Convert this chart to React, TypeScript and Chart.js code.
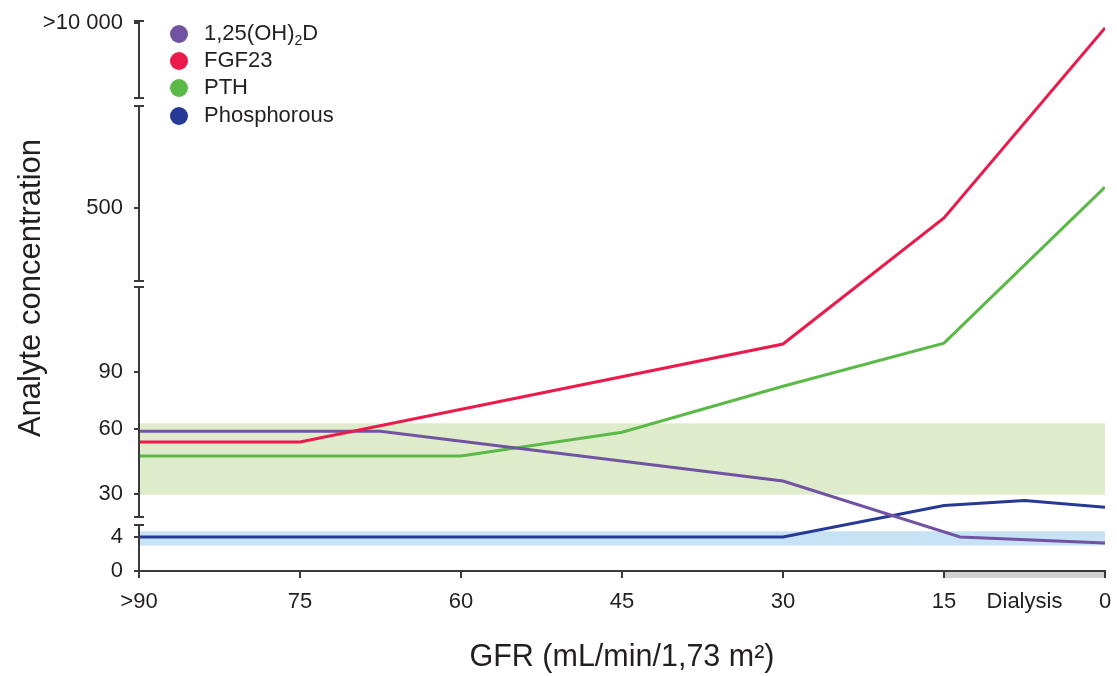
import React, { useEffect, useRef } from "react";
import { Chart, registerables } from "chart.js";

Chart.register(...registerables);

// ---- Broken y-axis definition (value -> axis position) ----
const yTickValues = [0, 4, 30, 60, 90, 500, 10000];
const yTickLabels = ["0", "4", "30", "60", "90", "500", ">10 000"];
const yAxisAnchors = [0, 34, 77, 142, 199, 363, 548];
const yAxisSegments = [
  [0, 46],
  [54, 284],
  [290, 465],
  [473, 550],
];

// ---- X axis ----
const gfrTicks = [90, 75, 60, 45, 30, 15, 7.5, 0];
const gfrTickLabels = [">90", "75", "60", "45", "30", "15", "Dialysis", "0"];

// ---- Series ----
const vitDGfr = [90, 67.5, 30, 13.5, 0];
const vitD = [59, 59, 36, 4, 3.3];

const fgfGfr = [90, 75, 30, 15, 0];
const fgf23 = [54, 54, 160, 475, 9750];

const pthGfr = [90, 60, 45, 30, 15, 0];
const pth = [47.5, 47.5, 58.5, 82.5, 162, 1570];

const phosGfr = [90, 30, 15, 7.5, 0];
const phos = [4, 4, 23, 26, 22];

// ---- Normal ranges ----
const rangeGfr = [90, 0];
const pthRangeUpper = [63, 63];
const pthRangeLower = [29.5, 29.5];
const phosRangeUpper = [7.5, 7.5];
const phosRangeLower = [3, 3];

const seriesNames = ["1,25(OH)2D", "FGF23", "PTH", "Phosphorous"];
const seriesColors = ["#7153a2", "#ec1a4b", "#5bb947", "#263a95"];

const TEXT = "#231f20";
const AXIS = "#3a3a3a";
const FONT = "'Liberation Sans', Arial, Helvetica, sans-serif";

function toPos(v: number): number {
  for (let i = 1; i < yTickValues.length; i++) {
    if (v <= yTickValues[i] || i === yTickValues.length - 1) {
      const v0 = yTickValues[i - 1];
      const v1 = yTickValues[i];
      const p0 = yAxisAnchors[i - 1];
      const p1 = yAxisAnchors[i];
      return p0 + ((v - v0) / (v1 - v0)) * (p1 - p0);
    }
  }
  return 0;
}

function pts(xs: number[], ys: number[]) {
  return xs.map((x, i) => ({ x, y: toPos(ys[i]) }));
}

const customPlugin = {
  id: "custom",
  beforeDraw(chart: any) {
    const { ctx, scales } = chart;
    const x = scales.x;
    const y = scales.y;
    const x0 = x.getPixelForValue(15);
    const x1 = x.getPixelForValue(0);
    const yb = y.getPixelForValue(0);
    ctx.save();
    ctx.fillStyle = "#d1d1d3";
    ctx.fillRect(x0, yb, x1 - x0, 7);
    ctx.restore();
  },
  afterDraw(chart: any) {
    const { ctx, scales } = chart;
    const y = scales.y;
    const ax = chart.chartArea.left;
    ctx.save();
    // broken y-axis
    ctx.strokeStyle = AXIS;
    ctx.lineWidth = 2;
    yAxisSegments.forEach(([a, b]) => {
      const ya = y.getPixelForValue(a);
      const yb = y.getPixelForValue(b);
      ctx.beginPath();
      ctx.moveTo(ax, ya);
      ctx.lineTo(ax, yb);
      ctx.stroke();
      [a, b].forEach((p) => {
        if (p === 0) return;
        const py = y.getPixelForValue(p);
        ctx.beginPath();
        ctx.moveTo(ax - 5, py);
        ctx.lineTo(ax + 5, py);
        ctx.stroke();
      });
    });
    // legend
    const lx = 179;
    const ly = [34, 61, 88, 116];
    ctx.textBaseline = "middle";
    ctx.textAlign = "left";
    seriesNames.forEach((name, i) => {
      ctx.fillStyle = seriesColors[i];
      ctx.beginPath();
      ctx.arc(lx, ly[i], 9, 0, Math.PI * 2);
      ctx.fill();
      ctx.fillStyle = TEXT;
      ctx.font = `22px ${FONT}`;
      if (i === 0) {
        const p1 = "1,25(OH)";
        ctx.fillText(p1, 204, ly[i]);
        let w = ctx.measureText(p1).width;
        ctx.font = `14px ${FONT}`;
        ctx.fillText("2", 204 + w, ly[i] + 7);
        w += ctx.measureText("2").width;
        ctx.font = `22px ${FONT}`;
        ctx.fillText("D", 204 + w, ly[i]);
      } else {
        ctx.fillText(name, 204, ly[i]);
      }
    });
    // y title
    ctx.translate(31, 288);
    ctx.rotate(-Math.PI / 2);
    ctx.textAlign = "center";
    ctx.font = `31px ${FONT}`;
    ctx.fillStyle = TEXT;
    ctx.fillText("Analyte concentration", 0, 0);
    ctx.restore();
  },
};

export default function App() {
  const ref = useRef<HTMLCanvasElement | null>(null);
  useEffect(() => {
    document.body.style.margin = "0";
    if (!ref.current) return;
    const lineDs = (label: string, data: any[], color: string, order: number) => ({
      label,
      data,
      borderColor: color,
      backgroundColor: color,
      borderWidth: 3,
      pointRadius: 0,
      tension: 0,
      fill: false,
      order,
    });
    const band = (label: string, data: any[], color: string | null) => ({
      label,
      data,
      borderWidth: 0,
      borderColor: "rgba(0,0,0,0)",
      pointRadius: 0,
      backgroundColor: color || "rgba(0,0,0,0)",
      fill: color ? "+1" : false,
      order: 10,
    });
    const chart = new Chart(ref.current, {
      type: "line",
      data: {
        datasets: [
          lineDs(seriesNames[0], pts(vitDGfr, vitD), seriesColors[0], 2),
          lineDs(seriesNames[1], pts(fgfGfr, fgf23), seriesColors[1], 1),
          lineDs(seriesNames[2], pts(pthGfr, pth), seriesColors[2], 3),
          lineDs(seriesNames[3], pts(phosGfr, phos), seriesColors[3], 4),
          band("pthUpper", pts(rangeGfr, pthRangeUpper), "#dfeccc"),
          band("pthLower", pts(rangeGfr, pthRangeLower), null),
          band("phosUpper", pts(rangeGfr, phosRangeUpper), "#c8e2f5"),
          band("phosLower", pts(rangeGfr, phosRangeLower), null),
        ] as any,
      },
      options: {
        animation: false,
        responsive: false,
        devicePixelRatio: 1,
        layout: { padding: { left: 0, top: 21, right: 12, bottom: 0 } },
        plugins: {
          legend: { display: false },
          tooltip: { enabled: false },
        },
        scales: {
          x: {
            type: "linear",
            min: 0,
            max: 90,
            reverse: true,
            afterBuildTicks: (s: any) => {
              s.ticks = gfrTicks.map((v) => ({ value: v }));
            },
            afterFit: (s: any) => {
              s.height = 105;
              s.paddingLeft = 0;
              s.paddingRight = 0;
            },
            ticks: {
              autoSkip: false,
              maxRotation: 0,
              padding: 11,
              color: TEXT,
              font: { size: 22, family: FONT },
              callback: (_v: any, i: number) => gfrTickLabels[i],
            },
            grid: {
              drawOnChartArea: false,
              drawTicks: true,
              tickLength: 7,
              lineWidth: 2,
              tickColor: (c: any) =>
                c.tick && c.tick.value === 7.5 ? "rgba(0,0,0,0)" : AXIS,
            },
            border: { display: true, color: AXIS, width: 2 },
            title: {
              display: true,
              text: "GFR (mL/min/1,73 m²)",
              color: TEXT,
              font: { size: 30.5, family: FONT },
              padding: { top: 0, bottom: 0 },
            },
          },
          y: {
            type: "linear",
            min: 0,
            max: 550,
            afterBuildTicks: (s: any) => {
              s.ticks = yTickValues.map((v) => ({ value: toPos(v) }));
            },
            afterFit: (s: any) => {
              s.width = 139;
              s.paddingTop = 0;
              s.paddingBottom = 0;
            },
            ticks: {
              autoSkip: false,
              padding: 11,
              color: TEXT,
              font: { size: 22, family: FONT },
              callback: (_v: any, i: number) => yTickLabels[i],
            },
            grid: {
              drawOnChartArea: false,
              drawTicks: true,
              tickLength: 5,
              lineWidth: 2,
              tickColor: AXIS,
            },
            border: { display: false },
          },
        },
      },
      plugins: [customPlugin],
    } as any);
    return () => chart.destroy();
  }, []);
  return (
    <div style={{ position: "absolute", left: 0, top: 0, width: 1117, height: 676 }}>
      <canvas ref={ref} width={1117} height={676} />
    </div>
  );
}
